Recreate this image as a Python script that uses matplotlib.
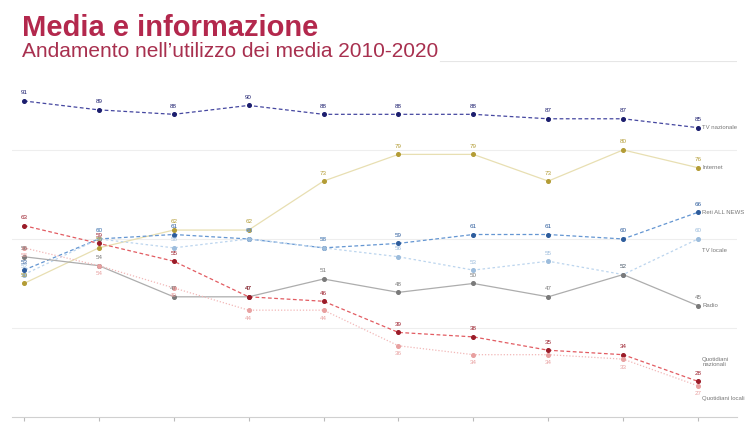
import textwrap
import matplotlib.pyplot as plt

years = list(range(2011, 2021))

series_names = ["TV nazionale", "Internet", "Reti ALL NEWS", "TV locale",
                "Radio", "Quotidiani nazionali", "Quotidiani locali"]

tv_nazionale = [91, 89, 88, 90, 88, 88, 88, 87, 87, 85]
internet = [50, 58, 62, 62, 73, 79, 79, 73, 80, 76]
reti_all_news = [53, 60, 61, 60, 58, 59, 61, 61, 60, 66]
tv_locale = [52, 60, 58, 60, 58, 56, 53, 55, 52, 60]
radio = [56, 54, 47, 47, 51, 48, 50, 47, 52, 45]
quotidiani_nazionali = [63, 59, 55, 47, 46, 39, 38, 35, 34, 28]
quotidiani_locali = [58, 54, 49, 44, 44, 36, 34, 34, 33, 27]

values = [tv_nazionale, internet, reti_all_news, tv_locale,
          radio, quotidiani_nazionali, quotidiani_locali]

# line colour, marker colour, dash pattern, label side (+1 above / -1 below), end-label shift
styles = [
    ("#4547a0", "#1c1e6e", (0, (3, 2)), 1, 0),
    ("#e8dfb2", "#b39c35", "-", 1, 0),
    ("#6496d2", "#2d5c9c", (0, (3, 2)), 1, 0),
    ("#bcd5ee", "#9cbcdc", (0, (2, 2)), 1, -8),
    ("#adadad", "#7a7a7a", "-", 1, 0),
    ("#e25c62", "#9a1b28", (0, (3, 2)), 1, 14),
    ("#f2b8b8", "#e8a0a0", (0, (1, 1.5)), -1, -9),
]

plt.rcParams["font.family"] = ["Liberation Sans", "DejaVu Sans"]

fig = plt.figure(figsize=(7.47, 4.23), dpi=100)
ax = fig.add_axes([0.016, 0.0142, 0.9706, 0.8418])

x = list(range(len(years)))
for name, vals, (lc, mc, ls, side, shift) in zip(series_names, values, styles):
    ax.plot(x, vals, color=lc, linestyle=ls, linewidth=0.9, zorder=2)
    ax.plot(x, vals, linestyle="none", marker="o", markersize=2.6,
            color=mc, zorder=3)
    for xi, v in zip(x, vals):
        ax.annotate(str(v), (xi, v), xytext=(0, 4 * side),
                    textcoords="offset points", ha="center",
                    va="bottom" if side > 0 else "top",
                    fontsize=4.5, color=mc, zorder=4)
    # the longest series name does not fit before the right edge on one line
    ax.annotate(textwrap.fill(name, 18), (x[-1], vals[-1]), xytext=(3, shift),
                textcoords="offset points", ha="left", va="center",
                fontsize=4.3, color="#777777", linespacing=1.0,
                annotation_clip=False)

ax.set_xlim(-0.16, 9.52)
ax.set_ylim(20, 100)

for g in (40, 60, 80):
    ax.axhline(g, color="#eeeeee", linewidth=0.8, zorder=1)
ax.axhline(100, xmin=0.59, color="#e6e6e6", linewidth=0.8, zorder=1)

for side in ("top", "right", "left"):
    ax.spines[side].set_visible(False)
ax.spines["bottom"].set_color("#d0d0d0")
ax.set_yticks([])
ax.set_xticks(x)
ax.set_xticklabels([])
ax.tick_params(axis="x", length=3, color="#bbbbbb")

fig.text(0.029, 0.915, "Media e informazione", fontsize=21, fontweight="bold",
         color="#b3284d", ha="left", va="baseline")
fig.text(0.029, 0.866, "Andamento nell\u2019utilizzo dei media 2010-2020",
         fontsize=15, color="#a8304f", ha="left", va="baseline")

fig.savefig("out.png", dpi=100)
